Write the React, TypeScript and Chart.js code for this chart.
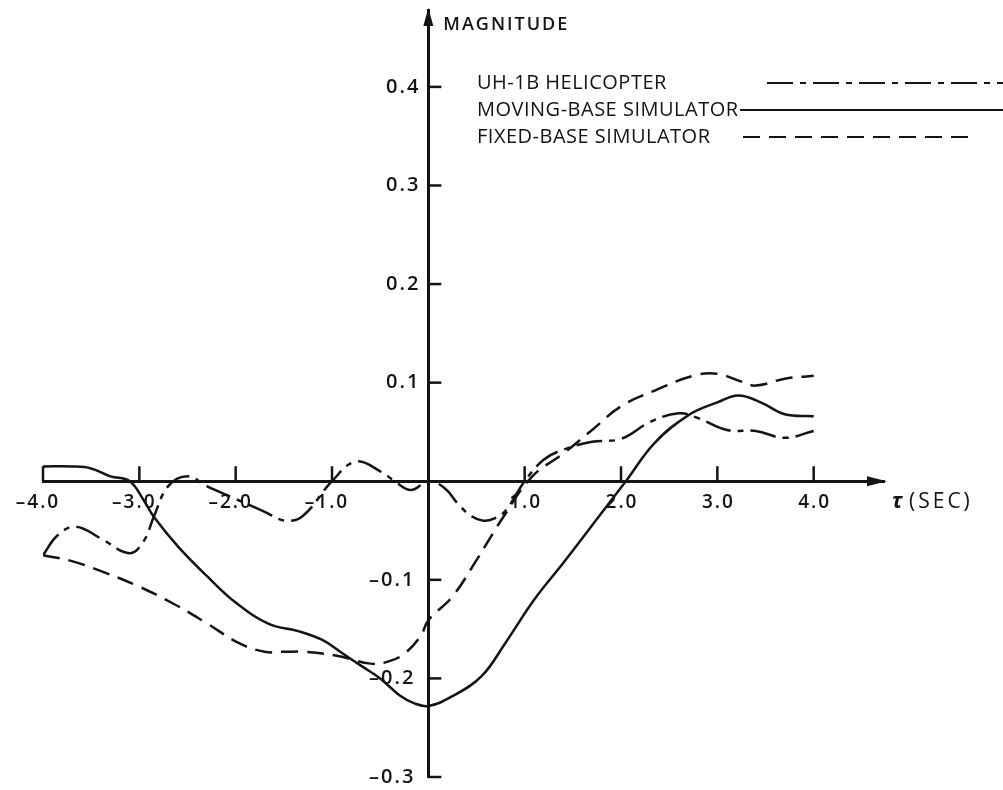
import React, { useEffect, useRef } from 'react';
import { Chart, registerables } from 'chart.js';
Chart.register(...registerables);

// UH-1B helicopter (dash-dot)
const heliX = [-4.0, -3.85, -3.66, -3.4, -3.1, -2.95, -2.85, -2.7, -2.5, -2.3, -2.0, -1.72, -1.48, -1.3, -1.0, -0.75, -0.48, -0.35, -0.18, 0.0, 0.17, 0.3, 0.44, 0.57, 0.68, 0.8, 1.0, 1.2, 1.4, 1.7, 2.0, 2.3, 2.6, 2.8, 3.1, 3.4, 3.7, 4.0];
const heliY = [-0.075, -0.055, -0.046, -0.058, -0.073, -0.06, -0.036, -0.005, 0.005, -0.005, -0.018, -0.03, -0.04, -0.035, 0.0, 0.02, 0.009, 0.0, -0.009, 0.0, -0.007, -0.022, -0.035, -0.04, -0.038, -0.03, 0.0, 0.022, 0.032, 0.04, 0.043, 0.06, 0.069, 0.064, 0.052, 0.051, 0.044, 0.051];

// Moving-base simulator (solid)
const movX = [-4.0, -3.7, -3.5, -3.3, -3.1, -2.95, -2.85, -2.6, -2.3, -2.0, -1.65, -1.35, -1.1, -0.9, -0.7, -0.5, -0.3, -0.15, 0.0, 0.25, 0.55, 0.8, 1.1, 1.4, 1.8, 2.05, 2.35, 2.7, 3.0, 3.22, 3.45, 3.7, 4.0];
const movY = [0.015, 0.015, 0.013, 0.005, 0.0, -0.02, -0.036, -0.066, -0.096, -0.123, -0.145, -0.152, -0.161, -0.174, -0.187, -0.2, -0.217, -0.225, -0.228, -0.218, -0.198, -0.164, -0.12, -0.083, -0.032, 0.0, 0.039, 0.067, 0.08, 0.087, 0.08, 0.068, 0.066];

// Fixed-base simulator (dashed)
const fixX = [-4.0, -3.7, -3.35, -3.0, -2.65, -2.3, -1.97, -1.7, -1.5, -1.28, -0.95, -0.6, -0.42, -0.25, -0.08, 0.0, 0.25, 0.5, 0.78, 1.08, 1.4, 1.7, 2.0, 2.35, 2.75, 3.0, 3.25, 3.4, 3.7, 4.0];
const fixY = [-0.075, -0.081, -0.093, -0.107, -0.124, -0.144, -0.164, -0.173, -0.173, -0.173, -0.177, -0.185, -0.183, -0.175, -0.157, -0.141, -0.117, -0.08, -0.036, 0.005, 0.028, 0.052, 0.076, 0.092, 0.107, 0.109, 0.101, 0.097, 0.104, 0.107];

const xTickValues = [-4, -3, -2, -1, 1, 2, 3, 4];
const yTickValues = [0.4, 0.3, 0.2, 0.1, -0.1, -0.2, -0.3];
const seriesNames = ['UH-1B HELICOPTER', 'MOVING-BASE SIMULATOR', 'FIXED-BASE SIMULATOR'];
const yTitle = 'MAGNITUDE';
const xTitle = 'τ (SEC)';

const INK = '#141414';
const FONT = 'Open Sans';
const heliDash = [26, 7, 6, 7];
const fixDash = [17, 9];

const toPts = (xs: number[], ys: number[]) => xs.map((x, i) => ({ x, y: ys[i] }));
const fmt = (v: number) => (v < 0 ? '\u2013' : '') + Math.abs(v).toFixed(1);

const decorPlugin = {
  id: 'decor',
  afterDraw(chart: any) {
    const { ctx, scales } = chart;
    const xs = scales.x;
    const ys = scales.y;
    const x0 = xs.getPixelForValue(0);
    const y0 = ys.getPixelForValue(0);
    ctx.save();
    ctx.strokeStyle = INK;
    ctx.fillStyle = INK;
    ctx.lineWidth = 2.5;
    // x ticks upward + labels
    ctx.textBaseline = 'middle';
    ctx.font = `600 19px "${FONT}"`;
    (ctx as any).letterSpacing = '2px';
    xTickValues.forEach((v) => {
      const px = xs.getPixelForValue(v);
      ctx.beginPath();
      ctx.moveTo(px, y0);
      ctx.lineTo(px, y0 - 15);
      ctx.stroke();
      ctx.textAlign = 'center';
      ctx.fillText(fmt(v), px + (v < 0 ? -5 : 1), y0 + 21);
    });
    // y ticks to the right + labels
    ctx.font = `600 20px "${FONT}"`;
    yTickValues.forEach((v) => {
      const py = ys.getPixelForValue(v);
      ctx.beginPath();
      ctx.moveTo(x0, py);
      ctx.lineTo(x0 + 13, py);
      ctx.stroke();
      ctx.textAlign = 'right';
      ctx.fillText(fmt(v), x0 - (v < 0 ? 13 : 8), py);
    });
    (ctx as any).letterSpacing = '0px';
    // arrowheads
    const topY = ys.getPixelForValue(ys.max);
    ctx.beginPath();
    ctx.moveTo(x0, topY - 2);
    ctx.lineTo(x0 - 5, topY + 16);
    ctx.lineTo(x0 + 5, topY + 16);
    ctx.closePath();
    ctx.fill();
    const rightX = xs.getPixelForValue(xs.max);
    ctx.beginPath();
    ctx.moveTo(rightX + 3, y0);
    ctx.lineTo(rightX - 17, y0 - 5);
    ctx.lineTo(rightX - 17, y0 + 5);
    ctx.closePath();
    ctx.fill();

    // titles
    ctx.textAlign = 'left';
    (ctx as any).letterSpacing = '2px';
    ctx.font = `600 18px "${FONT}"`;
    ctx.fillText(yTitle, x0 + 15, 25);
    (ctx as any).letterSpacing = '0px';
    ctx.font = `italic 700 21px "${FONT}"`;
    ctx.fillText(xTitle.slice(0, 1), rightX + 8, y0 + 21);
    (ctx as any).letterSpacing = '3px';
    ctx.font = `500 21px "${FONT}"`;
    ctx.fillText(xTitle.slice(2), rightX + 25, y0 + 21);

    // legend
    const legendX = 477;
    const rows = [83, 110, 137];
    const lineStarts = [767, 740, 743];
    const lineEnds = [1003, 1003, 975];
    const dashes = [heliDash, [], fixDash];
    ctx.font = `500 20px "${FONT}"`;
    (ctx as any).letterSpacing = '0.5px';
    seriesNames.forEach((name, i) => {
      ctx.fillText(name, legendX, rows[i]);
      ctx.setLineDash(dashes[i]);
      ctx.lineWidth = 2;
      ctx.beginPath();
      ctx.moveTo(lineStarts[i], rows[i]);
      ctx.lineTo(lineEnds[i], rows[i]);
      ctx.stroke();
    });
    ctx.restore();
  },
};

export default function App() {
  const ref = useRef<HTMLCanvasElement | null>(null);
  useEffect(() => {
    if (!ref.current) return;
    const common = { borderColor: INK, borderWidth: 2.5, pointRadius: 0, tension: 0.4, fill: false };
    const chart = new Chart(ref.current, {
      type: 'line',
      data: {
        datasets: [
          { label: seriesNames[0], data: toPts(heliX, heliY), borderDash: heliDash, ...common },
          { label: seriesNames[1], data: toPts(movX, movY), ...common },
          { label: seriesNames[2], data: toPts(fixX, fixY), borderDash: fixDash, ...common },
        ],
      },
      options: {
        responsive: false,
        animation: false,
        layout: { padding: { left: 43, right: 119, top: 10, bottom: 13 } },
        plugins: { legend: { display: false }, tooltip: { enabled: false } },
        scales: {
          x: {
            type: 'linear',
            min: -4,
            max: 4.73,
            position: { y: 0 } as any,
            afterBuildTicks: (s: any) => { s.ticks = xTickValues.map((v) => ({ value: v })); },
            ticks: { display: false },
            grid: { display: false, drawTicks: false },
            border: { display: true, color: INK, width: 3 },
          },
          y: {
            type: 'linear',
            min: -0.3,
            max: 0.478,
            position: { x: 0 } as any,
            afterBuildTicks: (s: any) => { s.ticks = yTickValues.map((v) => ({ value: v })); },
            ticks: { display: false },
            grid: { display: false, drawTicks: false },
            border: { display: true, color: INK, width: 3 },
          },
        },
      },
      plugins: [decorPlugin],
    });
    return () => chart.destroy();
  }, []);
  return (
    <div style={{ position: 'absolute', left: 0, top: 0, width: 1003, height: 790, background: '#fff' }}>
      <canvas ref={ref} width={1003} height={790} />
    </div>
  );
}
